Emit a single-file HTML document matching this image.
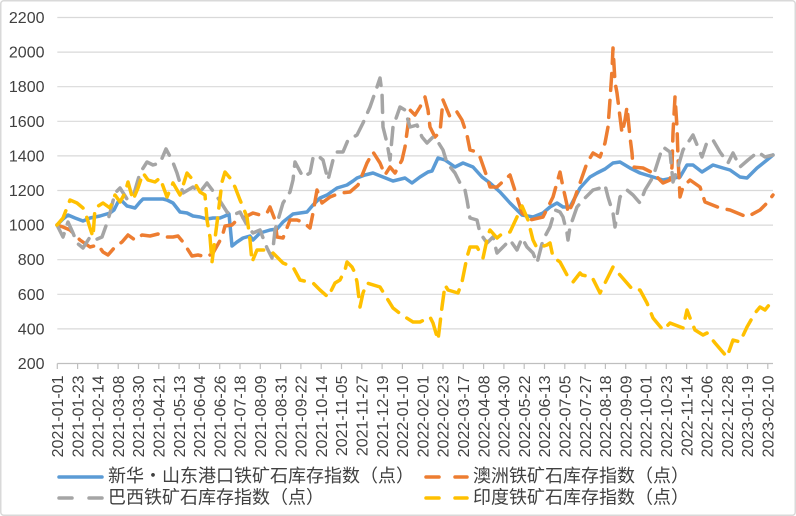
<!DOCTYPE html>
<html><head><meta charset="utf-8"><style>
html,body{margin:0;padding:0;background:#fff;}
svg{display:block;}
text{font-family:"Liberation Sans","Noto Sans CJK SC",sans-serif;fill:#404040;}
</style></head><body>
<svg width="796" height="516" viewBox="0 0 796 516" xmlns="http://www.w3.org/2000/svg">
<rect x="0.75" y="0.75" width="794.5" height="514.5" rx="3" fill="#fff" stroke="#d9d9d9" stroke-width="1.5"/>
<g stroke="#d9d9d9" stroke-width="1.2">
<line x1="57.3" y1="17.5" x2="773" y2="17.5"/>
<line x1="57.3" y1="52.1" x2="773" y2="52.1"/>
<line x1="57.3" y1="86.7" x2="773" y2="86.7"/>
<line x1="57.3" y1="121.3" x2="773" y2="121.3"/>
<line x1="57.3" y1="155.9" x2="773" y2="155.9"/>
<line x1="57.3" y1="190.5" x2="773" y2="190.5"/>
<line x1="57.3" y1="225.1" x2="773" y2="225.1"/>
<line x1="57.3" y1="259.7" x2="773" y2="259.7"/>
<line x1="57.3" y1="294.3" x2="773" y2="294.3"/>
<line x1="57.3" y1="328.9" x2="773" y2="328.9"/>
</g>
<line x1="57.3" y1="363.5" x2="773" y2="363.5" stroke="#bfbfbf" stroke-width="1.2"/>
<g font-size="16" text-anchor="end">
<text x="44.5" y="23">2200</text>
<text x="44.5" y="57.6">2000</text>
<text x="44.5" y="92.2">1800</text>
<text x="44.5" y="126.8">1600</text>
<text x="44.5" y="161.4">1400</text>
<text x="44.5" y="196">1200</text>
<text x="44.5" y="230.6">1000</text>
<text x="44.5" y="265.2">800</text>
<text x="44.5" y="299.8">600</text>
<text x="44.5" y="334.4">400</text>
<text x="44.5" y="369">200</text>
</g>
<g id="ticks" stroke="#bfbfbf" stroke-width="1.2"></g>
<g id="xl" font-size="16" text-anchor="end"></g>
<g fill="none" stroke-width="3.5" stroke-linejoin="round" stroke-linecap="round">
<polyline stroke="#5B9BD5" points="57,225 63,219 68,215 75,218 83,221 90,218 100,216 110,213 114,210 118,202 122,201 127,206 135,208 140,202 143,199 153,199 163,199 167,200 173,203 180,212 187,213 193,216 200,217 207,219 213,218 220,218 225,216 229,214 232,246 237,242 243,238 250,236 253,240 260,233 270,230 277,229 283,222 293,214 300,213 307,212 313,205 320,198 327,195 337,188 347,185 353,181 357,178 365,175 373,173 383,177 393,181 405,178 412,183 420,177 428,172 432,171 438,158 445,160 455,167 463,163 473,167 482,177 490,183 500,192 510,203 522,215 533,217 543,213 550,207 557,203 563,207 570,207 580,188 590,177 597,173 605,169 613,163 620,162 630,168 640,173 653,177 663,180 673,178 680,177 687,165 693,165 702,172 713,165 723,168 730,170 740,177 747,178 757,168 767,160 773,155"/>
<polyline stroke="#ED7D31" stroke-dasharray="17 10" points="57,225 63,227 70,230 80,240 90,247 98,245 103,252 108,255 115,247 122,242 128,235 135,240 142,235 150,236 158,234 165,237 173,237 178,236 183,242 192,256 198,255 207,257 213,253 222,237 225,226 232,225 238,219 245,217 253,213 260,215 267,213 270,207 275,220 277,237 283,238 290,220 297,220 303,222 310,228 313,213 317,190 322,203 330,197 340,193 350,192 358,185 363,173 367,163 373,152 380,163 385,175 390,167 395,173 402,160 405,147 410,110 415,115 420,107 425,97 428,110 430,127 435,137 440,132 443,100 450,117 457,112 462,120 467,135 470,150 477,152 480,157 487,177 490,187 497,187 510,175 517,197 522,213 530,220 543,217 550,203 553,197 560,172 563,187 567,205 568,213 573,203 580,183 587,163 593,153 600,157 605,143 608,127 610,100 612,70 613,48 615,82 617,93 620,117 622,133 625,120 627,107 630,137 632,153 633,167 643,168 653,173 663,183 670,180 672,167 673,133 675,97 677,127 678,157 680,197 683,187 690,180 700,187 705,202 720,208 730,210 747,217 760,210 767,203 773,195"/>
<polyline stroke="#A5A5A5" stroke-dasharray="17 10" points="57,225 63,237 68,222 73,233 77,243 83,248 90,237 95,240 102,237 107,223 110,213 115,193 120,188 127,199 133,197 140,173 147,162 153,165 160,163 166,149 172,160 177,173 183,193 193,187 200,192 207,183 213,191 220,201 227,212 233,215 240,212 248,227 253,233 260,230 267,248 272,258 275,230 283,203 290,192 293,180 295,162 303,177 310,173 313,158 317,155 323,160 328,180 333,160 337,152 343,152 348,140 357,135 363,123 370,107 377,87 380,78 382,93 383,127 387,143 390,160 393,127 400,107 405,110 410,127 417,125 422,137 427,143 433,137 438,142 443,150 447,163 455,173 460,183 465,190 467,200 470,218 477,220 480,233 487,243 493,237 497,253 503,247 510,240 517,250 522,238 527,247 533,253 537,263 543,240 550,227 555,210 560,212 563,217 567,233 568,240 570,227 577,207 585,198 593,190 600,188 605,185 608,197 613,213 615,227 620,197 627,190 633,195 640,203 645,190 653,177 660,155 663,147 670,152 673,182 678,167 683,150 693,135 702,157 707,142 713,140 720,152 728,163 733,153 740,167 748,160 758,152 765,157 773,155"/>
<polyline stroke="#FFC000" stroke-dasharray="17 10" points="57,225 63,218 70,200 77,203 83,208 87,218 90,228 93,237 95,208 103,203 110,208 115,195 120,202 125,193 128,182 133,200 138,188 143,173 148,180 155,182 160,178 167,197 173,183 180,195 187,173 193,180 200,192 205,195 207,220 210,237 212,262 217,223 222,182 225,172 230,178 235,187 240,200 243,207 247,217 250,240 252,262 257,250 265,250 273,253 283,263 293,267 300,280 313,283 320,290 328,297 335,283 340,280 345,270 347,262 352,267 355,273 357,282 360,307 363,293 367,283 380,287 393,308 402,315 413,322 420,322 430,317 433,323 438,340 442,307 445,285 448,290 458,293 462,282 467,257 470,247 477,247 483,258 488,235 490,230 497,238 503,233 510,232 517,217 522,206 528,220 533,240 537,248 547,245 550,243 553,257 560,262 567,275 573,282 580,273 582,275 592,277 600,293 613,267 620,275 633,290 640,290 647,303 653,318 663,330 670,323 683,328 687,310 692,323 695,330 703,335 707,333 715,343 727,357 733,340 740,342 747,327 755,313 760,307 765,310 773,300"/>
</g>
<g stroke-width="3.5" stroke-linecap="round">
<line x1="59" y1="477" x2="102" y2="477" stroke="#5B9BD5"/>
<line x1="59" y1="498" x2="72" y2="498" stroke="#A5A5A5"/>
<line x1="89" y1="498" x2="102" y2="498" stroke="#A5A5A5"/>
<line x1="426" y1="477" x2="439" y2="477" stroke="#ED7D31"/>
<line x1="455" y1="477" x2="467" y2="477" stroke="#ED7D31"/>
<line x1="426" y1="498" x2="439" y2="498" stroke="#FFC000"/>
<line x1="455" y1="498" x2="467" y2="498" stroke="#FFC000"/>
</g>
<g font-size="18">
<text x="108" y="482">新华・山东港口铁矿石库存指数（点）</text>
<text x="108" y="503.5">巴西铁矿石库存指数（点）</text>
<text x="473" y="482">澳洲铁矿石库存指数（点）</text>
<text x="473" y="503.5">印度铁矿石库存指数（点）</text>
</g>
</svg>
<script>
(function(){
var labels=["2021-01-01","2021-01-23","2021-02-14","2021-03-08","2021-03-30","2021-04-21","2021-05-13","2021-06-04","2021-06-26","2021-07-18","2021-08-09","2021-08-31","2021-09-22","2021-10-14","2021-11-05","2021-11-27","2021-12-19","2022-01-10","2022-02-01","2022-02-23","2022-03-17","2022-04-08","2022-04-30","2022-05-22","2022-06-13","2022-07-05","2022-07-27","2022-08-18","2022-09-09","2022-10-01","2022-10-23","2022-11-14","2022-12-06","2022-12-28","2023-01-19","2023-02-10"];
var ns="http://www.w3.org/2000/svg";
var tg=document.getElementById("ticks"),xl=document.getElementById("xl");
for(var i=0;i<labels.length;i++){
var x=57.3+i*20.3;
var l=document.createElementNS(ns,"line");
l.setAttribute("x1",x);l.setAttribute("x2",x);l.setAttribute("y1",363.5);l.setAttribute("y2",369);
tg.appendChild(l);
var t=document.createElementNS(ns,"text");
t.setAttribute("transform","translate("+(x+5.7)+",375.5) rotate(-90)");
t.textContent=labels[i];
xl.appendChild(t);
}
})();
</script>
</body></html>
